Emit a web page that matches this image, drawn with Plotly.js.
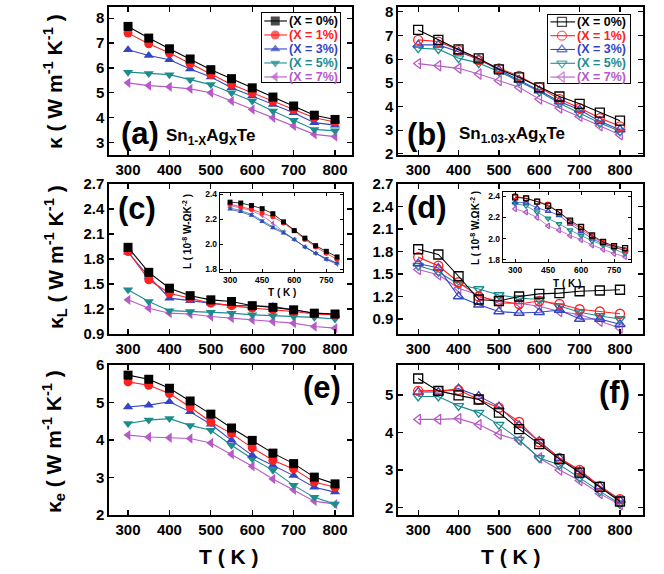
<!DOCTYPE html>
<html><head><meta charset="utf-8">
<script src="https://cdn.plot.ly/plotly-3.0.1.min.js"></script>
<style>html,body{margin:0;padding:0;background:#fff}#plot{width:664px;height:574px}</style>
</head><body><div id="plot"></div>
<script>
const T = [300,350,400,450,500,550,600,650,700,750,800];
const seriesNames = ['(X = 0%)','(X = 1%)','(X = 3%)','(X = 5%)','(X = 7%)'];
const colors = ['#000000','#ff2020','#3346c4','#1d8c8c','#b65ac6'];
const symbols = ['square','circle','triangle-up','triangle-down','triangle-left'];

// (a) total kappa, Sn1-xAgxTe
const kappaA = [
 [7.67,7.20,6.77,6.36,5.93,5.57,5.20,4.83,4.47,4.10,3.93],
 [7.40,6.97,6.60,6.17,5.73,5.33,5.00,4.67,4.33,4.00,3.83],
 [6.73,6.50,6.33,5.96,5.64,5.20,4.87,4.53,4.20,3.80,3.70],
 [5.83,5.78,5.73,5.53,5.33,5.00,4.67,4.27,3.90,3.53,3.47],
 [5.40,5.29,5.24,5.16,5.00,4.67,4.33,4.00,3.67,3.33,3.24]];
// (b) total kappa, Sn1.03-xAgxTe
const kappaB = [
 [7.23,6.81,6.41,6.03,5.57,5.23,4.81,4.42,4.11,3.74,3.40],
 [6.81,6.74,6.38,5.96,5.61,5.29,4.81,4.31,3.93,3.51,3.16],
 [6.60,6.60,6.31,5.99,5.54,5.12,4.67,4.21,3.86,3.37,3.02],
 [6.46,6.42,6.04,5.83,5.48,5.06,4.63,4.14,3.72,3.30,2.95],
 [5.81,5.72,5.61,5.37,5.09,4.81,4.31,3.93,3.58,3.18,2.80]];
// (c) lattice kappa
const kappaC = [
 [1.94,1.64,1.45,1.36,1.31,1.29,1.24,1.22,1.19,1.15,1.14],
 [1.89,1.55,1.39,1.33,1.27,1.24,1.21,1.19,1.17,1.14,1.13],
 [1.88,1.59,1.33,1.30,1.27,1.24,1.24,1.23,1.19,1.15,1.13],
 [1.43,1.29,1.18,1.17,1.16,1.15,1.13,1.12,1.11,1.10,1.08],
 [1.31,1.21,1.15,1.14,1.11,1.09,1.07,1.05,1.03,0.99,0.97]];
// (d) lattice kappa
const kappaD = [
 [1.83,1.76,1.47,1.16,1.14,1.20,1.235,1.245,1.27,1.28,1.29],
 [1.725,1.61,1.39,1.20,1.14,1.10,1.14,1.10,1.03,1.00,0.97],
 [1.64,1.58,1.20,1.09,1.00,0.98,0.99,1.02,0.90,0.90,0.83],
 [1.61,1.53,1.36,1.30,1.22,1.18,1.16,1.07,0.99,0.94,0.90],
 [1.56,1.49,1.31,1.22,1.11,1.11,1.07,1.00,0.96,0.87,0.78]];
// inset (c) Lorenz number
const lorenzC = [
 [2.337,2.33,2.31,2.285,2.245,2.18,2.11,2.05,1.99,1.945,1.90],
 [2.32,2.30,2.28,2.25,2.22,2.17,2.11,2.04,1.98,1.93,1.88],
 [2.28,2.26,2.23,2.18,2.13,2.09,2.04,1.98,1.93,1.88,1.85],
 [2.29,2.27,2.24,2.19,2.14,2.10,2.04,1.98,1.93,1.89,1.85],
 [2.31,2.29,2.27,2.23,2.17,2.10,2.04,1.98,1.93,1.88,1.84]];
// inset (d) Lorenz number
const lorenzD = [
 [2.39,2.38,2.35,2.31,2.25,2.17,2.11,2.03,1.97,1.93,1.91],
 [2.40,2.38,2.35,2.32,2.25,2.16,2.09,2.02,1.96,1.92,1.89],
 [2.34,2.34,2.29,2.26,2.22,2.14,2.07,2.00,1.95,1.92,1.89],
 [2.33,2.31,2.25,2.19,2.14,2.08,2.03,1.98,1.94,1.90,1.86],
 [2.28,2.25,2.20,2.12,2.08,2.03,1.99,1.94,1.90,1.86,1.83]];
// (e) electronic kappa
const kappaE = [
 [5.73,5.62,5.38,5.04,4.69,4.32,3.99,3.65,3.37,3.01,2.83],
 [5.55,5.46,5.24,4.88,4.48,4.17,3.79,3.46,3.23,2.88,2.74],
 [4.88,4.93,5.02,4.75,4.42,3.99,3.59,3.32,3.05,2.74,2.61],
 [4.44,4.53,4.57,4.39,4.26,3.86,3.50,3.19,2.79,2.47,2.29],
 [4.13,4.08,4.06,4.04,3.92,3.62,3.30,2.96,2.67,2.37,2.29]];
// (f) electronic kappa
const kappaF = [
 [5.44,5.11,4.99,4.88,4.53,4.09,3.69,3.29,2.93,2.55,2.16],
 [5.11,5.11,5.13,4.88,4.66,4.28,3.74,3.32,3.00,2.57,2.22],
 [5.08,5.08,5.17,4.97,4.69,4.19,3.77,3.32,2.96,2.57,2.19],
 [4.96,4.96,4.71,4.53,4.21,3.81,3.32,3.14,2.79,2.43,2.10],
 [4.35,4.35,4.37,4.21,3.95,3.79,3.32,3.00,2.72,2.37,2.07]];

const W = 664, H = 574;
const px = v => v / W, py = v => 1 - v / H;
const FONT = 'Liberation Sans, Arial, sans-serif';
const traces = [];

function addPanel(data, n, open, msize, lw) {
  const xa = 'x' + (n === 1 ? '' : n), ya = 'y' + (n === 1 ? '' : n);
  for (let i = data.length - 1; i >= 0; i--) {
    traces.push({type:'scatter', mode:'lines+markers', x:T, y:data[i], xaxis:xa, yaxis:ya,
      name:seriesNames[i], showlegend:false, hoverinfo:'skip',
      line:{color:colors[i], width:lw},
      marker:{symbol:symbols[i] + (open ? '-open' : ''), size:msize, color:colors[i],
              line:{color:colors[i], width:open ? 1.3 : 0}}});
  }
}
addPanel(kappaA, 1, false, 9, 1.1);
addPanel(kappaB, 2, true, 9, 1.1);
addPanel(kappaC, 3, false, 9, 1.1);
addPanel(kappaD, 4, true, 9, 1.1);
addPanel(kappaE, 5, false, 9, 1.1);
addPanel(kappaF, 6, true, 9, 1.1);
addPanel(lorenzC, 7, false, 5, 0.8);
addPanel(lorenzD, 8, true, 5, 0.8);

const annotations = [];
function addLegend(n, open, x0, xm, x1, xt) {
  seriesNames.forEach((nm, i) => {
    const row = 4 - i;
    traces.push({type:'scatter', mode:'lines+markers', x:[x0, xm, x1], y:[row, row, row],
      xaxis:'x' + n, yaxis:'y' + n, showlegend:false, hoverinfo:'skip',
      line:{color:colors[i], width:1.1},
      marker:{symbol:symbols[i] + (open ? '-open' : ''), size:[0, 9, 0], color:colors[i],
              line:{color:colors[i], width:open ? 1.3 : 0}}});
    annotations.push({xref:'x' + n, yref:'y' + n, x:xt, y:row, xanchor:'left', yanchor:'middle',
      text:'<b>' + nm + '</b>', showarrow:false,
      font:{family:FONT, size:12.5, color:colors[i]}});
  });
}
addLegend(9, false, 0.03, 0.17, 0.32, 0.325);
addLegend(10, true, 0.03, 0.17, 0.33, 0.33);

const tickFont = {family:FONT, size:15, color:'#000', weight:'bold'};
const insetFont = {family:FONT, size:8.5, color:'#000', weight:'bold'};
function ax(dom, range, anchor, extra) {
  return Object.assign({domain:dom, range:range, anchor:anchor, showline:true, linecolor:'#000',
    linewidth:1.6, mirror:'allticks', ticks:'inside', ticklen:5, tickwidth:1.2, tickcolor:'#000',
    showgrid:false, zeroline:false, tickfont:tickFont, fixedrange:true}, extra || {});
}
const xL = [px(109), px(352)], xR = [px(398), px(643)];
const r1 = [py(155), py(7)], r2 = [py(334), py(184)], r3 = [py(515), py(365)];
const xtA = {tickvals:[300,400,500,600,700,800]};
const inX = {tickvals:[300,450,600,750], tickfont:insetFont, linewidth:1.2, ticklen:3, tickwidth:1};
const inY = {tickvals:[1.8,2.0,2.2,2.4], tickformat:'.1f', tickfont:insetFont, linewidth:1.2, ticklen:3, tickwidth:1};
const legAx = (dom, range, anchor) => ({domain:dom, range:range, anchor:anchor, showline:true, mirror:true,
  linecolor:'#000', linewidth:1, ticks:'', showticklabels:false, showgrid:false, zeroline:false, fixedrange:true});

const layout = {
  width:W, height:H, margin:{l:0, r:0, t:0, b:0}, showlegend:false,
  paper_bgcolor:'#fff', plot_bgcolor:'rgba(0,0,0,0)',
  font:{family:FONT, color:'#000'},
  xaxis: ax(xL, [254, 841], 'y', xtA),
  yaxis: ax(r1, [2.5, 8.45], 'x', {tickvals:[3,4,5,6,7,8]}),
  xaxis2: ax(xR, [250, 857], 'y2', xtA),
  yaxis2: ax(r1, [1.95, 8.2], 'x2', {tickvals:[2,3,4,5,6,7,8]}),
  xaxis3: ax(xL, [254, 841], 'y3', xtA),
  yaxis3: ax(r2, [0.9, 2.7], 'x3', {tickvals:[0.9,1.2,1.5,1.8,2.1,2.4,2.7], tickformat:'.1f'}),
  xaxis4: ax(xR, [250, 857], 'y4', xtA),
  yaxis4: ax(r2, [0.7, 2.7], 'x4', {tickvals:[0.9,1.2,1.5,1.8,2.1,2.4,2.7], tickformat:'.1f'}),
  xaxis5: ax(xL, [254, 841], 'y5', xtA),
  yaxis5: ax(r3, [2, 6], 'x5', {tickvals:[2,3,4,5,6]}),
  xaxis6: ax(xR, [250, 857], 'y6', xtA),
  yaxis6: ax(r3, [1.8, 5.8], 'x6', {tickvals:[2,3,4,5]}),
  xaxis7: ax([px(220), px(343)], [253, 828], 'y7', inX),
  yaxis7: ax([py(272), py(193)], [1.78, 2.41], 'x7', inY),
  xaxis8: ax([px(503), px(631)], [245, 827], 'y8', inX),
  yaxis8: ax([py(262), py(192)], [1.78, 2.44], 'x8', inY),
  xaxis9: legAx([px(262), px(340)], [0, 1], 'y9'),
  yaxis9: legAx([py(82), py(13)], [-0.36, 4.57], 'x9'),
  xaxis10: legAx([px(548), px(630)], [0, 1], 'y10'),
  yaxis10: legAx([py(83), py(15)], [-0.43, 4.5], 'x10'),
  annotations: annotations
};

function note(text, x, y, size, extra) {
  annotations.push(Object.assign({xref:'paper', yref:'paper', x:px(x), y:py(y), text:text,
    showarrow:false, xanchor:'center', yanchor:'middle', font:{family:FONT, size:size, color:'#000'}}, extra || {}));
}
note('<b>(a)</b>', 140, 134, 31);
note('<b>Sn<sub>1-X</sub>Ag<sub>X</sub>Te</b>', 164, 137, 17, {xanchor:'left'});
note('<b>(b)</b>', 427, 135, 31);
note('<b>Sn<sub>1.03-X</sub>Ag<sub>X</sub>Te</b>', 457, 135, 17, {xanchor:'left'});
note('<b>(c)</b>', 137, 208, 31);
note('<b>(d)</b>', 427, 207, 31);
note('<b>(e)</b>', 322, 387, 31);
note('<b>(f)</b>', 614, 392, 31);
note('<b>κ ( W m<sup>-1</sup> K<sup>-1</sup> )</b>', 53, 81, 21, {textangle:-90});
note('<b>κ<sub>L</sub> ( W m<sup>-1</sup> K<sup>-1</sup> )</b>', 55, 257, 21, {textangle:-90});
note('<b>κ<sub>e</sub> ( W m<sup>-1</sup> K<sup>-1</sup> )</b>', 53, 441, 21, {textangle:-90});
note('<b>T ( K )</b>', 228, 556, 21);
note('<b>T ( K )</b>', 510, 556, 21);
note('<b>L ( 10<sup>-8</sup> W-ΩK<sup>-2</sup> )</b>', 187, 232, 10, {textangle:-90});
note('<b>T ( K )</b>', 282, 292, 10);
note('<b>L ( 10<sup>-8</sup> W.ΩK<sup>-2</sup> )</b>', 475, 228, 10, {textangle:-90});
note('<b>T ( K )</b>', 567, 283, 10);

Plotly.newPlot('plot', traces, layout, {displayModeBar:false, staticPlot:true});
</script></body></html>
